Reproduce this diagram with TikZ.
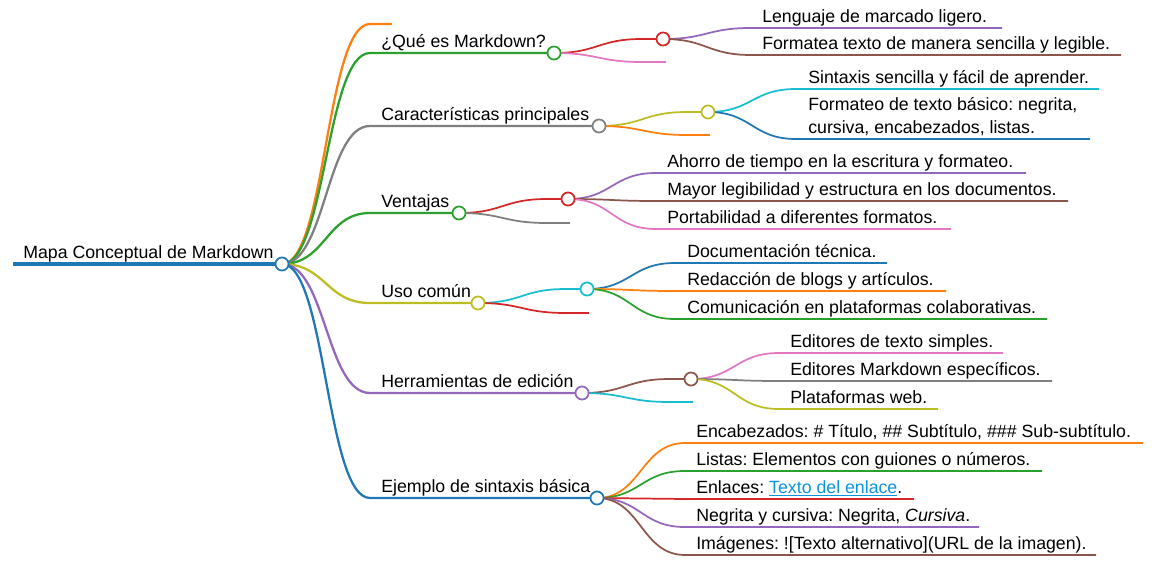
\documentclass[tikz,border=0pt]{standalone}
\usepackage{fontspec}
\setmainfont{Liberation Sans}
\frenchspacing
\definecolor{cblue}{HTML}{1F77B4}
\definecolor{corange}{HTML}{FF7F0E}
\definecolor{cgreen}{HTML}{2CA02C}
\definecolor{cred}{HTML}{D62728}
\definecolor{cpurple}{HTML}{9467BD}
\definecolor{cbrown}{HTML}{8C564B}
\definecolor{cpink}{HTML}{E377C2}
\definecolor{cgray}{HTML}{7F7F7F}
\definecolor{colive}{HTML}{BCBD22}
\definecolor{ccyan}{HTML}{17BECF}
\definecolor{linkblue}{RGB}{10,148,222}
\pgfdeclarelayer{bg}
\pgfsetlayers{bg,main}
\begin{document}
\begin{tikzpicture}[x=0.75pt,y=-0.75pt,
  dot/.style={circle,draw=#1,fill=white,line width=1.3pt,minimum size=9.8pt,inner sep=0pt},
  lab/.style={anchor=base west,inner sep=0pt,font=\fontsize{13.3}{17.25}\selectfont\frenchspacing,text=black},
  lone/.style={draw=#1,line width=1.7pt},
  ltwo/.style={draw=#1,line width=1.3pt}]
\useasboundingbox (0,0) rectangle (1156,563);
% ---------- circles ----------
\node[dot=cblue] (R) at (282,264) {};
\node[dot=cgreen] (Q) at (554,53) {};
\node[dot=cgray] (C) at (599,126) {};
\node[dot=cgreen] (V) at (459,213) {};
\node[dot=colive] (U) at (478,303) {};
\node[dot=cpurple] (H) at (582,393) {};
\node[dot=cblue] (E) at (597,498) {};
\node[dot=cred] (Q1) at (663,39) {};
\node[dot=colive] (C1) at (708,112) {};
\node[dot=cred] (V1) at (568,199) {};
\node[dot=ccyan] (U1) at (587,289) {};
\node[dot=cbrown] (H1) at (691,379) {};
% ---------- coordinates ----------
\coordinate (r0) at (13,264);
\coordinate (b0s) at (370,24);  \coordinate (b0e) at (392,24);
\coordinate (b1s) at (370,53);
\coordinate (b2s) at (370,126);
\coordinate (b3s) at (370,213);
\coordinate (b4s) at (370,303);
\coordinate (b5s) at (370,393);
\coordinate (b6s) at (370,498);
% Q
\coordinate (q1s) at (642,39);
\coordinate (q2s) at (642,62);  \coordinate (q2e) at (666,62);
\coordinate (qa s) at (751,28); \coordinate (qa e) at (1002,28);
\coordinate (qb s) at (751,55); \coordinate (qb e) at (1121,55);
% C
\coordinate (c1s) at (687,112);
\coordinate (c2s) at (687,135); \coordinate (c2e) at (710,135);
\coordinate (ca s) at (796,89);  \coordinate (ca e) at (1099,89);
\coordinate (cb s) at (796,139); \coordinate (cb e) at (1090,139);
% V
\coordinate (v1s) at (547,199);
\coordinate (v2s) at (547,223); \coordinate (v2e) at (570,223);
\coordinate (va s) at (656,173); \coordinate (va e) at (1026,173);
\coordinate (vb s) at (656,201); \coordinate (vb e) at (1068,201);
\coordinate (vc s) at (656,229); \coordinate (vc e) at (951,229);
% U
\coordinate (u1s) at (566,289);
\coordinate (u2s) at (566,313); \coordinate (u2e) at (589,313);
\coordinate (ua s) at (675,263); \coordinate (ua e) at (887,263);
\coordinate (ub s) at (675,291); \coordinate (ub e) at (946,291);
\coordinate (uc s) at (675,319); \coordinate (uc e) at (1047,319);
% H
\coordinate (h1s) at (670,379);
\coordinate (h2s) at (670,402); \coordinate (h2e) at (693,402);
\coordinate (ha s) at (779,353); \coordinate (ha e) at (1003,353);
\coordinate (hb s) at (779,381); \coordinate (hb e) at (1052,381);
\coordinate (hc s) at (779,409); \coordinate (hc e) at (938,409);
% E
\coordinate (ea s) at (685,443); \coordinate (ea e) at (1143,443);
\coordinate (eb s) at (685,471); \coordinate (eb e) at (1042,471);
\coordinate (ec s) at (685,499); \coordinate (ec e) at (914,499);
\coordinate (ed s) at (685,527); \coordinate (ed e) at (979,527);
\coordinate (ee s) at (685,555); \coordinate (ee e) at (1096,555);
% ---------- connectors ----------
\begin{pgfonlayer}{bg}
\draw[draw=cblue,line width=3.2pt] (r0) -- (R.center);
\draw[lone=corange] (R.center) .. controls +(44,0) and +(-44,0) .. (b0s) -- (b0e);
\draw[lone=cgreen] (R.center) .. controls +(44,0) and +(-44,0) .. (b1s) -- (Q.center);
\draw[lone=cgray] (R.center) .. controls +(44,0) and +(-44,0) .. (b2s) -- (C.center);
\draw[lone=cgreen] (R.center) .. controls +(44,0) and +(-44,0) .. (b3s) -- (V.center);
\draw[lone=colive] (R.center) .. controls +(44,0) and +(-44,0) .. (b4s) -- (U.center);
\draw[lone=cpurple] (R.center) .. controls +(44,0) and +(-44,0) .. (b5s) -- (H.center);
\draw[lone=cblue] (R.center) .. controls +(44,0) and +(-44,0) .. (b6s) -- (E.center);
% Q
\draw[ltwo=cred] (Q.center) .. controls +(44,0) and +(-44,0) .. (q1s) -- (Q1.center);
\draw[ltwo=cpink] (Q.center) .. controls +(44,0) and +(-44,0) .. (q2s) -- (q2e);
\draw[ltwo=cpurple] (Q1.center) .. controls +(44,0) and +(-44,0) .. (qa s) -- (qa e);
\draw[ltwo=cbrown] (Q1.center) .. controls +(44,0) and +(-44,0) .. (qb s) -- (qb e);
% C
\draw[ltwo=colive] (C.center) .. controls +(44,0) and +(-44,0) .. (c1s) -- (C1.center);
\draw[ltwo=corange] (C.center) .. controls +(44,0) and +(-44,0) .. (c2s) -- (c2e);
\draw[ltwo=ccyan] (C1.center) .. controls +(44,0) and +(-44,0) .. (ca s) -- (ca e);
\draw[ltwo=cblue] (C1.center) .. controls +(44,0) and +(-44,0) .. (cb s) -- (cb e);
% V
\draw[ltwo=cred] (V.center) .. controls +(44,0) and +(-44,0) .. (v1s) -- (V1.center);
\draw[ltwo=cgray] (V.center) .. controls +(44,0) and +(-44,0) .. (v2s) -- (v2e);
\draw[ltwo=cpurple] (V1.center) .. controls +(44,0) and +(-44,0) .. (va s) -- (va e);
\draw[ltwo=cbrown] (V1.center) .. controls +(44,0) and +(-44,0) .. (vb s) -- (vb e);
\draw[ltwo=cpink] (V1.center) .. controls +(44,0) and +(-44,0) .. (vc s) -- (vc e);
% U
\draw[ltwo=ccyan] (U.center) .. controls +(44,0) and +(-44,0) .. (u1s) -- (U1.center);
\draw[ltwo=cred] (U.center) .. controls +(44,0) and +(-44,0) .. (u2s) -- (u2e);
\draw[ltwo=cblue] (U1.center) .. controls +(44,0) and +(-44,0) .. (ua s) -- (ua e);
\draw[ltwo=corange] (U1.center) .. controls +(44,0) and +(-44,0) .. (ub s) -- (ub e);
\draw[ltwo=cgreen] (U1.center) .. controls +(44,0) and +(-44,0) .. (uc s) -- (uc e);
% H
\draw[ltwo=cbrown] (H.center) .. controls +(44,0) and +(-44,0) .. (h1s) -- (H1.center);
\draw[ltwo=ccyan] (H.center) .. controls +(44,0) and +(-44,0) .. (h2s) -- (h2e);
\draw[ltwo=cpink] (H1.center) .. controls +(44,0) and +(-44,0) .. (ha s) -- (ha e);
\draw[ltwo=cgray] (H1.center) .. controls +(44,0) and +(-44,0) .. (hb s) -- (hb e);
\draw[ltwo=colive] (H1.center) .. controls +(44,0) and +(-44,0) .. (hc s) -- (hc e);
% E
\draw[ltwo=corange] (E.center) .. controls +(44,0) and +(-44,0) .. (ea s) -- (ea e);
\draw[ltwo=cgreen] (E.center) .. controls +(44,0) and +(-44,0) .. (eb s) -- (eb e);
\draw[ltwo=cred] (E.center) .. controls +(44,0) and +(-44,0) .. (ec s) -- (ec e);
\draw[ltwo=cpurple] (E.center) .. controls +(44,0) and +(-44,0) .. (ed s) -- (ed e);
\draw[ltwo=cbrown] (E.center) .. controls +(44,0) and +(-44,0) .. (ee s) -- (ee e);
\end{pgfonlayer}
% ---------- labels ----------
\node[lab] (tR) at (23,258.5) {Mapa Conceptual de Markdown};
\node[lab] (tQ) at (381,47.5) {¿Qué es Markdown?};
\node[lab] (tC) at (381,120.5) {Características principales};
\node[lab] (tV) at (381,207.5) {Ventajas};
\node[lab] (tU) at (381,297.5) {Uso común};
\node[lab] (tH) at (381,387.5) {Herramientas de edición};
\node[lab] (tE) at (381,492.5) {Ejemplo de sintaxis básica};
\node[lab] (tqa) at (762,22.5) {Lenguaje de marcado ligero.};
\node[lab] (tqb) at (762,49.5) {Formatea texto de manera sencilla y legible.};
\node[lab] (tca) at (808,83.5) {Sintaxis sencilla y fácil de aprender.};
\node[lab] (tcb1) at (808,110.5) {Formateo de texto básico: negrita,};
\node[lab] (tcb2) at (808,133.5) {cursiva, encabezados, listas.};
\node[lab] (tva) at (667,167.5) {Ahorro de tiempo en la escritura y formateo.};
\node[lab] (tvb) at (667,195.5) {Mayor legibilidad y estructura en los documentos.};
\node[lab] (tvc) at (667,223.5) {Portabilidad a diferentes formatos.};
\node[lab] (tua) at (687,257.5) {Documentación técnica.};
\node[lab] (tub) at (687,285.5) {Redacción de blogs y artículos.};
\node[lab] (tuc) at (687,313.5) {Comunicación en plataformas colaborativas.};
\node[lab] (tha) at (790,347.5) {Editores de texto simples.};
\node[lab] (thb) at (790,375.5) {Editores Markdown específicos.};
\node[lab] (thc) at (790,403.5) {Plataformas web.};
\node[lab] (tea) at (696,437.5) {Encabezados: \# Título, \#\# Subtítulo, \#\#\# Sub-subtítulo.};
\node[lab] (teb) at (696,465.5) {Listas: Elementos con guiones o números.};
\node[lab] (tec) at (696,493.5) {Enlaces: {\color{linkblue}\underline{Texto del enlace}}.};
\node[lab] (ted) at (696,521.5) {Negrita y cursiva: Negrita, \textit{Cursiva}.};
\node[lab] (tee) at (696,549.5) {Imágenes: ![Texto alternativo](URL de la imagen).};
\end{tikzpicture}
\end{document}
